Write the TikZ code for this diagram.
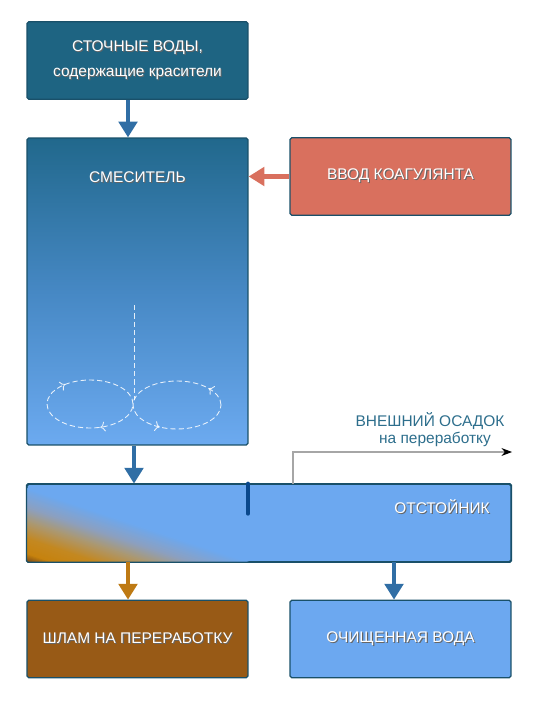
\documentclass[tikz,border=0pt]{standalone}
\usepackage{fontspec}
\setmainfont{Liberation Sans}
\usetikzlibrary{arrows.meta,calc,decorations.markings}

\definecolor{wastecol}{RGB}{30,100,130}
\definecolor{mixtop}{RGB}{33,104,140}
\definecolor{mixbot}{RGB}{108,170,240}
\definecolor{settblue}{RGB}{108,168,240}
\definecolor{coagcol}{RGB}{217,112,94}
\definecolor{sludgecol}{RGB}{152,90,22}
\definecolor{bordercol}{RGB}{25,80,105}
\definecolor{arrowblue}{RGB}{48,110,165}
\definecolor{arrowbrown}{RGB}{190,122,20}
\definecolor{bardark}{RGB}{10,72,140}
\definecolor{outtext}{RGB}{45,110,140}
\definecolor{grey1}{RGB}{140,160,192}
\definecolor{tan1}{RGB}{172,152,112}
\definecolor{orange1}{RGB}{196,136,32}
\definecolor{orange2}{RGB}{198,130,14}
\definecolor{brown1}{RGB}{100,58,26}

\newcommand{\shd}[1]{\makebox[0pt][l]{\raisebox{-0.6pt}{\kern0.6pt\textcolor{black!60}{#1}}}#1}

\begin{document}
\begin{tikzpicture}[x=0.02cm,y=-0.02cm,
    box/.style={draw=bordercol, line width=0.7pt, rounded corners=1pt, minimum width=4.42cm, minimum height=1.55cm, inner sep=0pt, text=white, font=\fontsize{8.8}{14.2}\selectfont, align=center},
    lbl/.style={inner sep=0pt, text=white, font=\fontsize{8.8}{14.2}\selectfont},
    flow/.style={line width=2.3pt, -{Triangle[width=10.5pt,length=9pt]}},
    swirl/.style={white, opacity=0.85, line width=0.5pt, dash pattern=on 3pt off 1.7pt}]
    \useasboundingbox (0,0) rectangle (544,705);

    % boxes
    \node[box, fill=wastecol] (waste) at (137.5,60.5) {\shd{СТОЧНЫЕ ВОДЫ,}\\\shd{содержащие красители}};
    \node[box, top color=mixtop, bottom color=mixbot, middle color={rgb,255:red,70;green,136;blue,196}, minimum height=6.14cm] (mixer) at (137.5,291.5) {};
    \node[lbl] (mixerlabel) at (137.5,178) {\shd{СМЕСИТЕЛЬ}};
    \node[box, fill=coagcol] (coag) at (400.5,176.5) {\shd{ВВОД КОАГУЛЯНТА}};
    \node[box, fill=settblue, minimum width=9.68cm] (settler) at (269,523) {};
    \node[box, fill=sludgecol] (sludge) at (137.5,639) {\shd{ШЛАМ НА ПЕРЕРАБОТКУ}};
    \node[box, fill=settblue] (clean) at (400.5,639) {\shd{ОЧИЩЕННАЯ ВОДА}};

    % sediment gradient in the settler
    \begin{scope}
        \clip[rounded corners=1pt] (settler.south west) rectangle (settler.north east);
        \begin{scope}[shift={(27,488)}, rotate=-18.4]
            \foreach \a/\b/\ca/\cb in {0/18/settblue/grey1, 18/32/grey1/tan1, 32/48/tan1/orange1, 48/62/orange1/orange2, 62/72/orange2/brown1} {
                \foreach \t in {\a,...,\b} {
                    \pgfmathtruncatemacro\p{100*(\t-\a)/(\b-\a)}
                    \fill[\cb!\p!\ca] (-600,\t) rectangle (600,200);
                }
            }
        \end{scope}
    \end{scope}
    \draw[draw=bordercol, line width=0.7pt, rounded corners=1pt] (settler.south west) rectangle (settler.north east);
    \node[lbl] (settlerlabel) at (442,507) {\shd{ОТСТОЙНИК}};
    \draw[bardark, line width=2.3pt, line cap=round] ([xshift=-0.42cm]settler.north) -- ++(0,30);   % partition

    % mixing swirls
    \draw[swirl] (134,305) -- (134,400);
    \draw[swirl, postaction={decorate}, decoration={markings, mark=at position 0.39 with {\arrow{<}}, mark=at position 0.82 with {\arrow{<}}}] (90,404) ellipse [x radius=0.86cm, y radius=0.48cm];
    \draw[swirl, postaction={decorate}, decoration={markings, mark=at position 0.10 with {\arrow{>}}, mark=at position 0.67 with {\arrow{>}}}] (177,405) ellipse [x radius=0.88cm, y radius=0.48cm];

    % flows
    \draw[flow, arrowblue] ([xshift=-0.19cm]waste.south) -- ([xshift=-0.19cm]mixer.north);
    \draw[flow, coagcol] (coag.west) -- (mixer.east |- coag.west);
    \draw[flow, arrowblue] ([xshift=-0.07cm]mixer.south) -- ([xshift=-0.07cm]mixer.south |- settler.north);
    \draw[flow, arrowbrown] ([xshift=-0.19cm]sludge.north |- settler.south) -- ([xshift=-0.19cm]sludge.north);
    \draw[flow, arrowblue] ([xshift=-0.13cm]clean.north |- settler.south) -- ([xshift=-0.13cm]clean.north);

    % external sediment
    \coordinate (out) at (512,452);
    \draw[black!35, line width=0.6pt, -{Stealth[black,length=6pt,width=4.5pt]}] ([xshift=0.48cm]settler.north) |- (out);
    \node[inner sep=0pt, text=outtext, font=\fontsize{8.8}{14.2}\selectfont] (ext1) at (430,421) {ВНЕШНИЙ ОСАДОК};
    \node[inner sep=0pt, text=outtext, font=\fontsize{8.8}{14.2}\selectfont] (ext2) at (435,439) {на переработку};
\end{tikzpicture}
\end{document}
